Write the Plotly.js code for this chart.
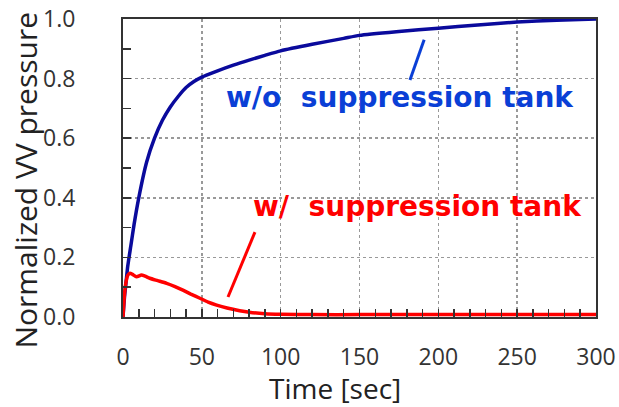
<!DOCTYPE html>
<html>
<head>
<meta charset="utf-8">
<script src="https://cdn.plot.ly/plotly-3.0.1.min.js"></script>
<style>html,body{margin:0;padding:0;background:#fff;}#chart{width:619px;height:407px;}</style>
</head>
<body>
<div id="chart"></div>
<script>
// Without suppression tank (blue)
const timeWo = [0, 1, 2, 3, 5, 7, 10, 15, 20, 25, 30, 35, 40, 45, 50, 60, 70, 80, 90, 100, 120, 140, 150, 175, 200, 225, 250, 275, 300];
const pressWo = [0, 0.07, 0.12, 0.17, 0.24, 0.31, 0.40, 0.52, 0.60, 0.66, 0.705, 0.74, 0.77, 0.79, 0.805, 0.826, 0.845, 0.862, 0.878, 0.893, 0.915, 0.935, 0.945, 0.958, 0.969, 0.98, 0.99, 0.996, 1.0];
// With suppression tank (red)
const timeW = [0, 1, 2, 3, 4.4, 6, 8.6, 11.7, 14, 17, 22, 27.7, 33, 38, 43, 48.8, 54, 59.4, 66, 74, 80, 90, 100, 120, 150, 200, 250, 300];
const pressW = [0, 0.08, 0.12, 0.14, 0.147, 0.143, 0.135, 0.141, 0.137, 0.13, 0.122, 0.113, 0.102, 0.09, 0.077, 0.063, 0.05, 0.04, 0.03, 0.021, 0.016, 0.011, 0.009, 0.008, 0.008, 0.008, 0.008, 0.008];
const xTicks = [0, 50, 100, 150, 200, 250, 300];
const yTicks = [0.0, 0.2, 0.4, 0.6, 0.8, 1.0];
const yTickText = ['0.0', '0.2', '0.4', '0.6', '0.8', '1.0'];
const labelWo = 'w/o  suppression tank';
const labelW = 'w/  suppression tank';
const xTitle = 'Time [sec]';
const yTitle = 'Normalized VV pressure';
// leader lines (data coordinates)
const leaderWoX = [182, 191];
const leaderWoY = [0.795, 0.93];
const leaderWX = [66.6, 83.7];
const leaderWY = [0.067, 0.285];

const traces = [
  {x: timeWo, y: pressWo, mode: 'lines', line: {color: '#0a0a9c', width: 3.5, shape: 'spline', smoothing: 0.6}, hoverinfo: 'skip'},
  {x: timeW, y: pressW, mode: 'lines', line: {color: '#ff0000', width: 3.5, shape: 'spline', smoothing: 0.6}, hoverinfo: 'skip'},
  {x: leaderWoX, y: leaderWoY, mode: 'lines', line: {color: '#0a3fd6', width: 3}, hoverinfo: 'skip'},
  {x: leaderWX, y: leaderWY, mode: 'lines', line: {color: '#ff0000', width: 3}, hoverinfo: 'skip'}
];

const tickFont = {family: 'Open Sans, sans-serif', size: 23, color: '#333333'};
const layout = {
  width: 619, height: 407,
  margin: {l: 123, r: 23, t: 19, b: 90},
  paper_bgcolor: '#ffffff', plot_bgcolor: '#ffffff',
  showlegend: false,
  xaxis: {
    range: [0, 300], tickvals: xTicks, ticktext: xTicks.map(String),
    ticks: 'inside', ticklen: 8, tickwidth: 1.5, tickcolor: '#333',
    minor: {dtick: 10, ticks: 'inside', ticklen: 8, tickcolor: '#333', tickwidth: 1.5, showgrid: false},
    showline: true, linecolor: '#333', linewidth: 2, mirror: true,
    showgrid: true, gridcolor: '#999', griddash: 'dot', gridwidth: 1.5,
    zeroline: false, tickfont: tickFont, ticklabelstandoff: 18
  },
  yaxis: {
    range: [0, 1.0], tickvals: yTicks, ticktext: yTickText,
    ticks: 'inside', ticklen: 8, tickwidth: 1.5, tickcolor: '#333',
    minor: {dtick: 0.1, ticks: 'inside', ticklen: 8, tickcolor: '#333', tickwidth: 1.5, showgrid: false},
    showline: true, linecolor: '#333', linewidth: 2, mirror: true,
    showgrid: true, gridcolor: '#999', griddash: 'dot', gridwidth: 1.5,
    zeroline: false, tickfont: tickFont, ticklabelstandoff: 41
  },
  annotations: [
    {x: 64.7, y: 0.735, xref: 'x', yref: 'y', xanchor: 'left', yanchor: 'middle', showarrow: false, borderpad: 0,
     text: '<b>' + labelWo.replace(/ /g, '&nbsp;') + '</b>',
     font: {family: 'DejaVu Sans, sans-serif', size: 28, color: '#0a3fd6'}},
    {x: 81.8, y: 0.37, xref: 'x', yref: 'y', xanchor: 'left', yanchor: 'middle', showarrow: false, borderpad: 0,
     text: '<b>' + labelW.replace(/ /g, '&nbsp;') + '</b>',
     font: {family: 'DejaVu Sans, sans-serif', size: 28, color: '#ff0000'}},
    {x: 0.448, y: -0.238, xref: 'paper', yref: 'paper', xanchor: 'center', yanchor: 'middle', showarrow: false, borderpad: 0,
     text: xTitle, font: {family: 'Open Sans, sans-serif', size: 28, color: '#222222'}},
    {x: -0.207, y: 0.458, xref: 'paper', yref: 'paper', xanchor: 'center', yanchor: 'middle', showarrow: false, borderpad: 0,
     textangle: -90, text: yTitle, font: {family: 'Open Sans, sans-serif', size: 30, color: '#222222'}}
  ]
};
Plotly.newPlot('chart', traces, layout, {staticPlot: true, displayModeBar: false});
</script>
</body>
</html>
